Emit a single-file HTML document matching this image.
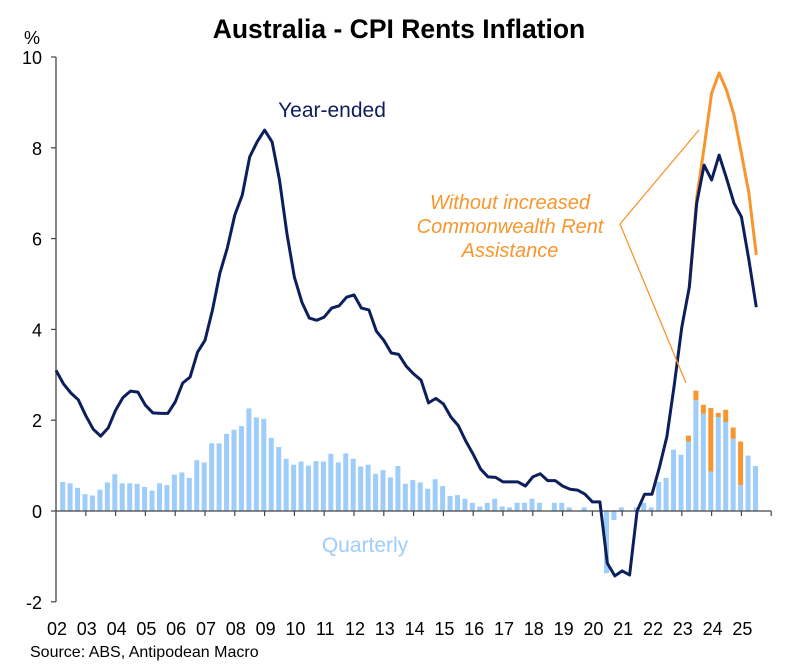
<!DOCTYPE html>
<html><head><meta charset="utf-8"><style>
html,body{margin:0;padding:0;background:#fff;}
svg{display:block;font-family:"Liberation Sans",Arial,sans-serif;}
</style></head><body>
<svg id="chart" width="786" height="664" viewBox="0 0 786 664">
<text x="399" y="38" text-anchor="middle" font-size="26.5" font-weight="bold" fill="#000">Australia - CPI Rents Inflation</text>
<text x="24" y="44" font-size="18" fill="#000">%</text>
<g id="bars"></g>
<g id="axes"></g>
<g id="lines"></g>
<text x="332" y="117" text-anchor="middle" font-size="21" fill="#0c1f5c">Year-ended</text>
<text x="365" y="552" text-anchor="middle" font-size="21" fill="#9fcdfa">Quarterly</text>
<g fill="#f7962e" font-size="20" font-style="italic" text-anchor="middle">
<text x="510" y="209">Without increased</text>
<text x="510" y="233">Commonwealth Rent</text>
<text x="510" y="257">Assistance</text>
</g>
<line x1="620" y1="224" x2="699" y2="130" stroke="#f7962e" stroke-width="1.3"/>
<line x1="620" y1="224" x2="686" y2="383" stroke="#f7962e" stroke-width="1.3"/>
<text x="30" y="657" font-size="16" fill="#000">Source: ABS, Antipodean Macro</text>
</svg>
<script>
// Year-ended, quarterly from 2001Q4 (k=0) to 2025Q2 (k=94)
const yearEnded = [3.1,2.8,2.6,2.45,2.1,1.8,1.65,1.83,2.22,2.5,2.64,2.62,2.33,2.16,2.15,2.15,2.4,2.82,2.95,3.5,3.76,4.43,5.24,5.79,6.52,6.96,7.8,8.13,8.39,8.13,7.29,6.1,5.15,4.6,4.25,4.2,4.27,4.47,4.52,4.71,4.76,4.47,4.43,3.96,3.76,3.48,3.45,3.19,3.02,2.88,2.38,2.48,2.36,2.07,1.88,1.54,1.25,0.92,0.75,0.74,0.64,0.64,0.64,0.55,0.75,0.82,0.67,0.67,0.55,0.48,0.46,0.37,0.2,0.2,-1.15,-1.43,-1.32,-1.41,0,0.37,0.37,0.97,1.64,2.8,4.05,4.93,6.78,7.62,7.29,7.84,7.33,6.78,6.48,5.53,4.49];
// Without increased CRA, from k=85
const withoutCRAStart = 85;
const withoutCRA = [4.93,6.9,8.0,9.2,9.65,9.27,8.72,7.88,7.0,5.64];
// Quarterly, k=1..94
const quarterly = [0.64,0.61,0.51,0.37,0.34,0.47,0.63,0.81,0.61,0.61,0.6,0.53,0.45,0.61,0.57,0.8,0.85,0.73,1.12,1.07,1.49,1.49,1.7,1.79,1.87,2.26,2.06,2.03,1.61,1.41,1.15,1.02,1.09,1.0,1.1,1.09,1.26,1.07,1.27,1.15,0.98,1.02,0.82,0.9,0.74,0.99,0.6,0.68,0.63,0.49,0.7,0.55,0.33,0.35,0.27,0.18,0.1,0.18,0.27,0.1,0.08,0.18,0.18,0.27,0.18,0,0.18,0.18,0.08,0,0.08,0,0,-1.37,-0.2,0.08,0,0.08,0.18,0.08,0.64,0.73,1.35,1.24,1.53,2.44,2.14,0.87,2.07,1.96,1.59,0.57,1.22,0.99];
// Quarterly without CRA (bar tops), from k=85
const quarterlyNoCRAStart = 85;
const quarterlyNoCRA = [1.66,2.65,2.34,2.27,2.16,2.23,1.84,1.53];
const yTicks = [-2,0,2,4,6,8,10];
const xLabels = ["02","03","04","05","06","07","08","09","10","11","12","13","14","15","16","17","18","19","20","21","22","23","24","25"];

const NS = "http://www.w3.org/2000/svg";
const X0 = 56, QW = 7.45;
const xq = k => X0 + k * QW;
const yv = v => 511 - v * 45.4;
function mk(tag, attrs, parent){const e=document.createElementNS(NS,tag);for(const a in attrs)e.setAttribute(a,attrs[a]);parent.appendChild(e);return e;}

const gb = document.getElementById('bars');
quarterly.forEach((v,i)=>{
  const k=i+1; const cx=xq(k)-0.8; const w=5;
  const j=k-quarterlyNoCRAStart;
  if(j>=0 && j<quarterlyNoCRA.length){
    const t=quarterlyNoCRA[j];
    const o=mk('rect',{x:cx-w/2,y:yv(t),width:w,height:Math.max(0,yv(v)-yv(t)),fill:'#f7962e'},gb);
    
    
  }
  const y1=Math.min(yv(v),yv(0)), h=Math.abs(yv(v)-yv(0));
  const r=mk('rect',{x:cx-w/2,y:y1,width:w,height:h,fill:'#9fcdfa'},gb);
  
  
});

const ga = document.getElementById('axes');
const ya=mk('line',{x1:X0,y1:yv(10),x2:X0,y2:yv(-2),stroke:'#444','stroke-width':1.3},ga);


yTicks.forEach(t=>{
  mk('line',{x1:X0-5,y1:yv(t),x2:X0,y2:yv(t),stroke:'#444','stroke-width':1.2},ga);
  const tx=mk('text',{x:42,y:yv(t)+7,'text-anchor':'end','font-size':18,fill:'#000'},ga);
  tx.textContent=t;
  
  
});
const xa=mk('line',{x1:X0,y1:yv(0),x2:xq(96),y2:yv(0),stroke:'#444','stroke-width':1.3},ga);


xLabels.forEach((l,i)=>{
  mk('line',{x1:xq(4*(i+1)),y1:yv(0),x2:xq(4*(i+1)),y2:yv(0)+5,stroke:'#444','stroke-width':1.2},ga);
  const tx=mk('text',{x:xq(4*i)+1,y:635,'text-anchor':'middle','font-size':18,fill:'#000'},ga);
  tx.textContent=l;
  
  
});

const gl = document.getElementById('lines');
const p2=withoutCRA.map((v,i)=>xq(withoutCRAStart+i).toFixed(1)+','+yv(v).toFixed(1)).join(' ');
const ol=mk('polyline',{points:p2,fill:'none',stroke:'#f7962e','stroke-width':3,'stroke-linejoin':'round'},gl);


const p1=yearEnded.map((v,k)=>xq(k).toFixed(1)+','+yv(v).toFixed(1)).join(' ');
const nl=mk('polyline',{points:p1,fill:'none',stroke:'#0c1f5c','stroke-width':3,'stroke-linejoin':'round'},gl);


</script>
</body></html>
